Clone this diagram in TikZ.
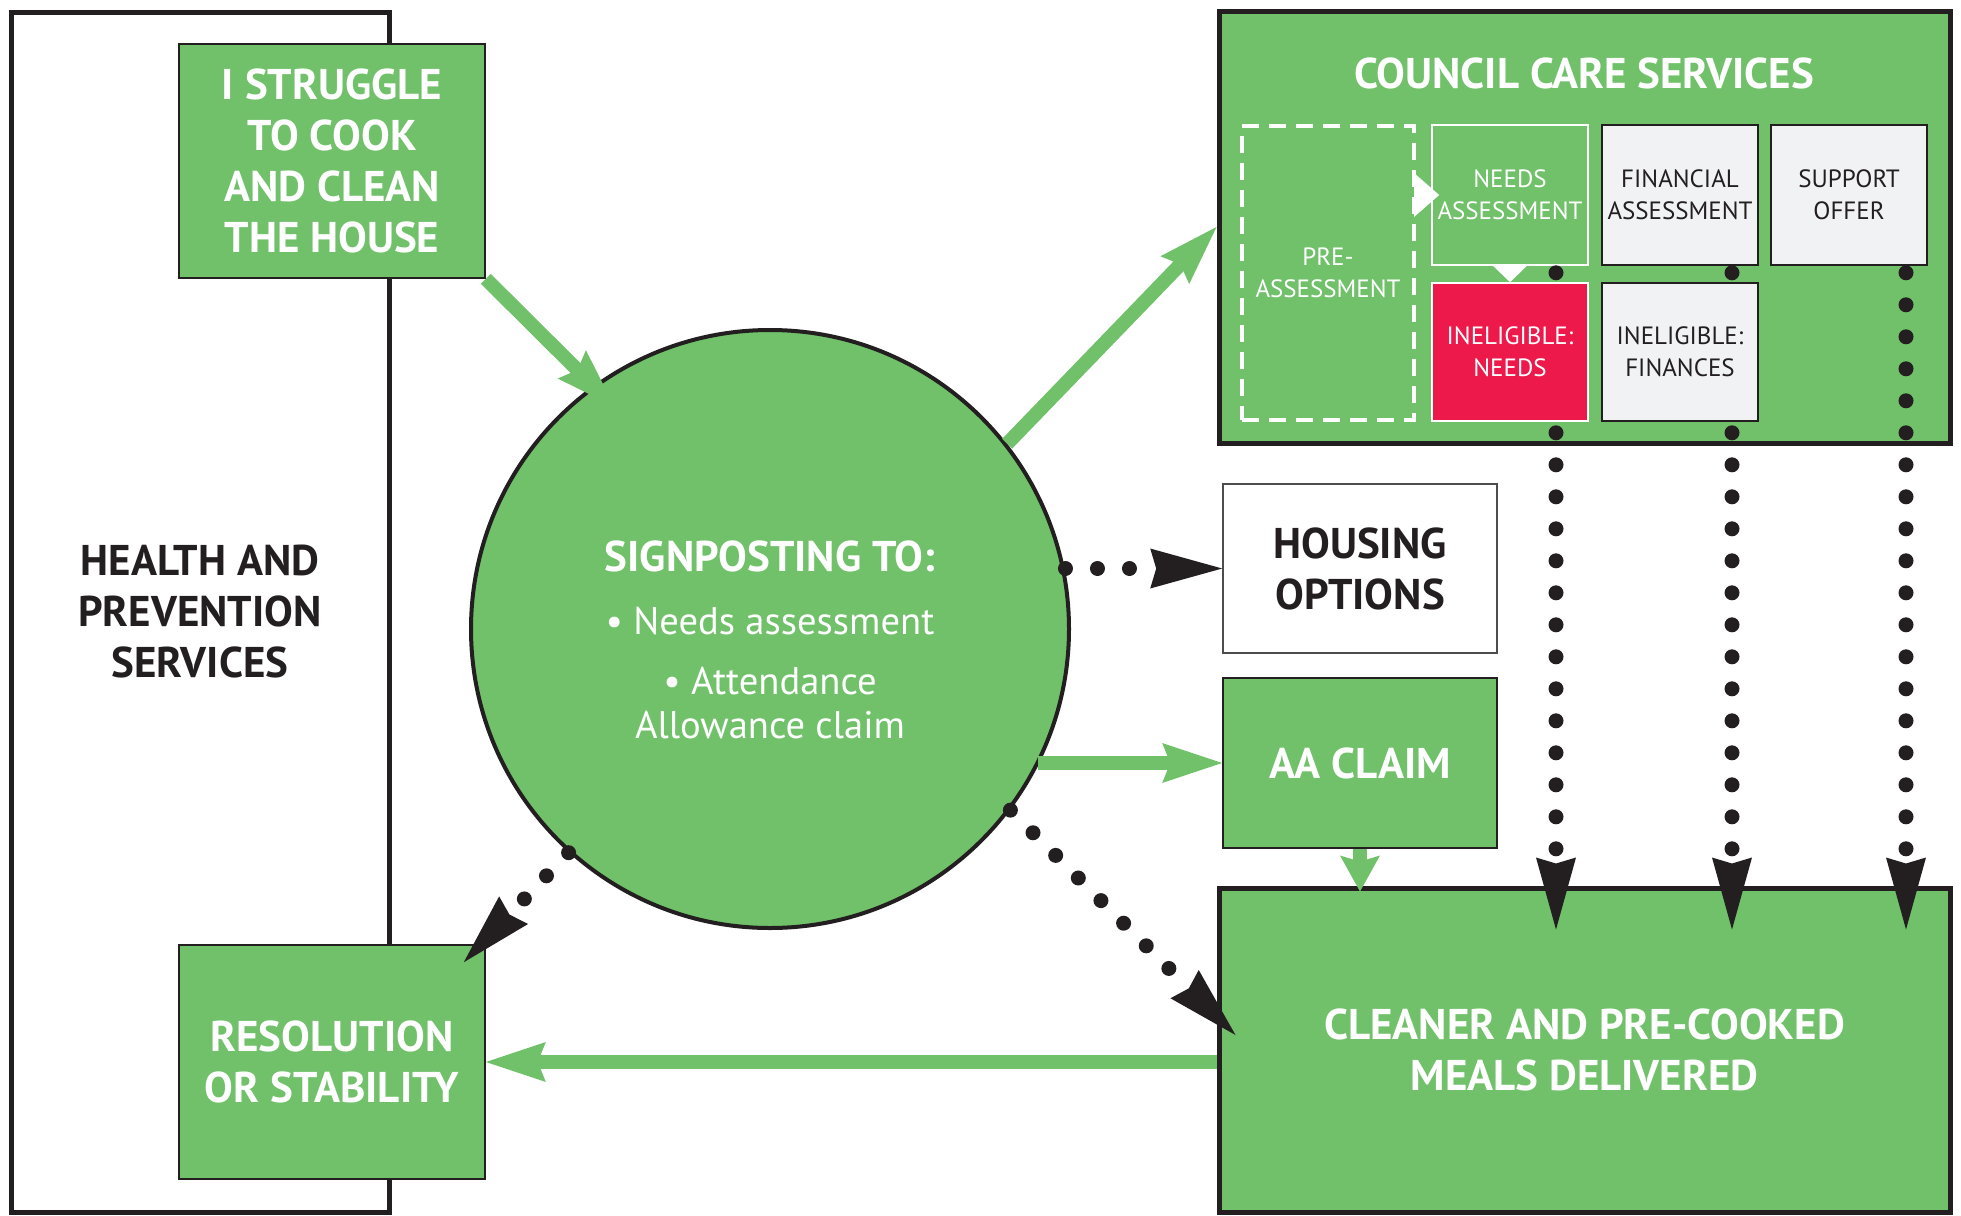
\documentclass[tikz,border=0pt]{standalone}
\usepackage{fontspec}
\setmainfont{PT Sans}
\usepackage{xcolor}
\usepackage{tikz}
\usetikzlibrary{arrows.meta,calc,positioning}

\definecolor{cgreen}{RGB}{112,193,106}
\definecolor{cred}{RGB}{238,25,75}
\definecolor{cgrey}{RGB}{241,242,244}
\definecolor{cdark}{RGB}{35,31,32}

\begin{document}
\begin{tikzpicture}[x=0.5pt,y=-0.5pt,
	garrow/.style = {line width=7pt, cgreen, -{Stealth[length=30pt,width=20pt,inset=4pt,line width=0pt]}},
	darrow/.style = {line width=7.5pt, cdark, line cap=round, dash pattern=on 0pt off 16pt, -{Stealth[length=36pt,width=20pt,inset=3pt,line width=0pt]}}]
					\tikzset{box/.style={draw=cdark,line width=0.8pt,rectangle,inner sep=0pt,align=center}}
					\tikzset{bigtext/.style={font=\bfseries\fontsize{21.5}{25.5}\selectfont}}
					\tikzset{smalltext/.style={font=\fontsize{12.5}{16}\selectfont}}
					\tikzset{gbox/.style={box, fill=cgreen, text=white, bigtext}}

					\useasboundingbox (0,0) rectangle (1961,1216);

					% Izquierda
					\node[box, line width=2.5pt, minimum width=189pt, minimum height=600pt, text=cdark, bigtext] (health) at (200,612) {HEALTH AND\\PREVENTION\\SERVICES};
					\node[gbox, minimum width=153pt, minimum height=117pt] (struggle) at (332,161) {I STRUGGLE\\TO COOK\\AND CLEAN\\THE HOUSE};
					\node[gbox, minimum width=153pt, minimum height=117pt] (resol) at (332,1062) {RESOLUTION\\OR STABILITY};

					% Circulo
					\node[circle, draw=cdark, line width=2pt, fill=cgreen, minimum size=299pt, inner sep=0pt] (signpost) at (770,629) {};
					\node[text=white, align=center, font=\fontsize{19.3}{22}\selectfont] (signtext) at (770,640) {{\bfseries\fontsize{21.5}{22}\selectfont SIGNPOSTING TO:}\\[9.5pt] • Needs assessment\\[8pt] • Attendance\\Allowance claim};

					% Council
					\node[box, line width=2.5pt, fill=cgreen, minimum width=365.5pt, minimum height=216pt] (council) at (1584.5,227) {};
					\node[text=white, bigtext] (counciltitle) at (1584,73) {COUNCIL CARE SERVICES};
					\node[box, draw=white, line width=2pt, dash pattern=on 8.5pt off 5pt, minimum width=86pt, minimum height=147pt, text=white, smalltext] (preass) at (1328,273) {PRE-\\ASSESSMENT};
					\node[box, draw=white, fill=cgreen, text=white, smalltext, minimum width=78pt, minimum height=70pt] (needs) at (1510,195) {NEEDS\\ASSESSMENT};
					\node[box, fill=cgrey, text=cdark, smalltext, minimum width=78pt, minimum height=70pt] (finass) at (1680,195) {FINANCIAL\\ASSESSMENT};
					\node[box, fill=cgrey, text=cdark, smalltext, minimum width=78pt, minimum height=70pt] (support) at (1849,195) {SUPPORT\\OFFER};

					% Derecha
					\node[box, draw=cdark!80, fill=white, text=cdark, bigtext, minimum width=137pt, minimum height=84.5pt] (housing) at (1360,568.5) {HOUSING\\OPTIONS};
					\node[gbox, minimum width=137pt, minimum height=85pt] (aaclaim) at (1360,763) {AA CLAIM};
					\node[gbox, line width=2.5pt, minimum width=365.5pt, minimum height=162pt] (cleaner) at (1584.5,1050) {CLEANER AND PRE-COOKED\\MEALS DELIVERED};

					\foreach \col/\dx in {needs/46, finass/52, support/57}
						\draw[darrow] ($(\col.south)+(\dx,7)$) -- ($(\col.south |- cleaner.north)+(\dx,44)$);

					\node[box, draw=white, fill=cred, text=white, smalltext, minimum width=78pt, minimum height=69pt] (inneeds) at (1510,352) {INELIGIBLE:\\NEEDS};
					\node[box, fill=cgrey, text=cdark, smalltext, minimum width=78pt, minimum height=69pt] (infin) at (1680,352) {INELIGIBLE:\\FINANCES};

					\fill[white] ($(preass.east |- needs.west)+(-2,-22)$) -- ($(needs.west)+(8,0)$) -- ($(preass.east |- needs.west)+(-2,22)$) -- cycle;
					\fill[white] ($(needs.south)+(-17,0)$) -- (inneeds.north) -- ($(needs.south)+(17,0)$) -- cycle;

					% Flechas
					\draw[garrow, shorten >=-15pt] (struggle.south east) -- (signpost.126);
					\draw[garrow] (signpost.38) -- (council.west);
					\draw[darrow] (housing.west -| signpost.11) -- (housing.west);
					\draw[garrow] (aaclaim.west -| signpost.-27) -- (aaclaim.west);
					\draw[garrow, -{Stealth[length=18pt,width=20pt,inset=3pt,line width=0pt]}] (aaclaim.south) -- ($(aaclaim.south |- cleaner.north)+(0,6)$);
					\draw[garrow] (resol.east -| cleaner.west) -- (resol.east);
					\draw[darrow] (signpost.228) -- ($(resol.north east)+(-22,18)$);
					\draw[darrow] (signpost.-37) -- ($(cleaner.west)+(19,-15)$);

				\end{tikzpicture}
\end{document}
